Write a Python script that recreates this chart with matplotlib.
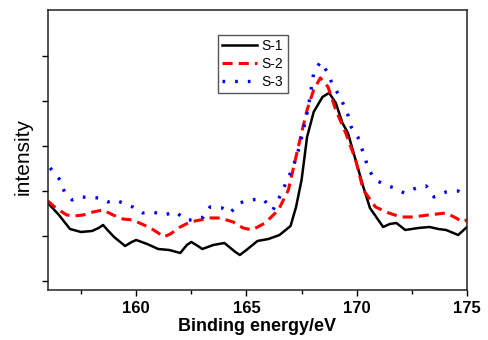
#!/usr/bin/env python3

import matplotlib
matplotlib.use("Agg")
import matplotlib.pyplot as plt
from matplotlib.ticker import MultipleLocator

plt.rcParams['font.family'] = ['Liberation Sans', 'DejaVu Sans']

# binding energy (eV) and intensity (arb. units)
s1_x = [156.0, 156.5, 157.0, 157.5, 158.0, 158.3, 158.5, 158.7, 159.0, 159.5, 159.8, 160.0,
        160.5, 161.0, 161.5, 162.0, 162.3, 162.5, 162.8, 163.0, 163.5, 164.0, 164.5, 164.7,
        165.0, 165.5, 166.0, 166.5, 167.0, 167.25, 167.5, 167.75, 168.05, 168.45, 168.75,
        169.05, 169.35, 169.6, 169.95, 170.3, 170.6, 171.2, 171.5, 171.8, 172.2, 172.8,
        173.3, 173.7, 174.05, 174.6, 175.0]
s1_y = [87, 75, 61, 58, 59, 62, 65, 60, 53, 44, 48, 50,
        46, 41, 40, 37, 45, 48, 44, 41, 45, 47, 38, 35,
        40, 49, 51, 55, 64, 83, 110, 153, 178, 193, 197,
        187, 167, 157, 130, 103, 82, 63, 66, 67, 60, 62,
        63, 61, 60, 55, 63]

s2_x = [156.0, 156.3, 156.85, 157.2, 157.6, 158.05, 158.5, 158.95, 159.4, 159.85, 160.65,
        161.0, 161.25, 161.55, 162.0, 162.45, 162.9, 163.35, 163.8, 164.4, 164.85, 165.25,
        165.85, 166.45, 166.9, 167.35, 167.75, 168.05, 168.35, 168.7, 169.05, 169.5, 169.95,
        170.3, 170.85, 171.45, 172.0, 172.55, 173.25, 174.05, 174.5, 174.8, 175.0]
s2_y = [89, 83, 75, 74, 75, 78, 80, 75, 71, 70, 62,
        57, 53, 56, 63, 68, 70, 72, 72, 68, 62, 60,
        67, 80, 100, 143, 180, 200, 212, 203, 180, 157, 130,
        100, 83, 77, 73, 73, 75, 77, 72, 68, 70]

s3_x = [156.1, 156.55, 156.75, 157.1, 157.45, 158.35, 158.7, 159.05, 159.85, 160.3, 160.75,
        161.25, 161.8, 162.25, 162.6, 163.05, 163.35, 163.9, 164.25, 164.7, 165.1, 165.75,
        166.2, 166.55, 166.85, 167.1, 167.3, 167.55, 167.8, 168.05, 168.35, 168.7, 168.9,
        169.25, 169.6, 169.75, 170.05, 170.3, 170.55, 170.85, 171.3, 171.7, 172.15, 172.7,
        173.15, 173.5, 174.05, 174.6, 175.0]
s3_y = [122, 110, 98, 90, 93, 92, 88, 90, 83, 77, 78,
        75, 78, 70, 70, 73, 83, 82, 77, 87, 90, 91,
        80, 95, 110, 122, 135, 157, 182, 217, 228, 217, 205,
        193, 175, 163, 153, 137, 120, 110, 105, 102, 97, 102,
        104, 93, 98, 99, 93]

labels = ['S-1', 'S-2', 'S-3']

fig = plt.figure(figsize=(4.89, 3.40), dpi=100)
ax = fig.add_axes([0.098, 0.147, 0.857, 0.824])

ax.plot(s1_x, s1_y, color='black', lw=1.8, label=labels[0])
ax.plot(s2_x, s2_y, color='red', lw=2.2, dashes=(3.3, 2.0), label=labels[1])
ax.plot(s3_x, s3_y, color='blue', lw=2.4, dashes=(0.8, 3.0), label=labels[2])

ax.set_xlim(156, 175)
ax.set_ylim(0, 280)
ax.xaxis.set_major_locator(MultipleLocator(5))
ax.xaxis.set_minor_locator(MultipleLocator(2.5))
ax.set_yticks([9, 54, 99, 144, 189, 234])
ax.set_yticklabels([])
ax.tick_params(axis='both', which='major', direction='out', length=4, width=1,
               labelsize=12, pad=4)
ax.tick_params(axis='x', which='minor', direction='out', length=3, width=1)
for lbl in ax.get_xticklabels():
    lbl.set_fontweight('bold')
for sp in ax.spines.values():
    sp.set_linewidth(1.1)
    sp.set_color('#222222')

ax.set_xlabel('Binding energy/eV', fontsize=13, fontweight='bold', labelpad=1)
ax.set_ylabel('intensity', fontsize=15, labelpad=1)
ax.yaxis.set_label_coords(-0.037, 0.475)

leg = ax.legend(loc='upper left', bbox_to_anchor=(0.406, 0.911), fontsize=10,
                handlelength=2.5, handletextpad=0.35, borderpad=0.3,
                labelspacing=0.3, borderaxespad=0, fancybox=False, framealpha=1)
leg.get_frame().set_edgecolor('#555555')
leg.get_frame().set_linewidth(1.0)

fig.savefig('out.png', dpi=100)
